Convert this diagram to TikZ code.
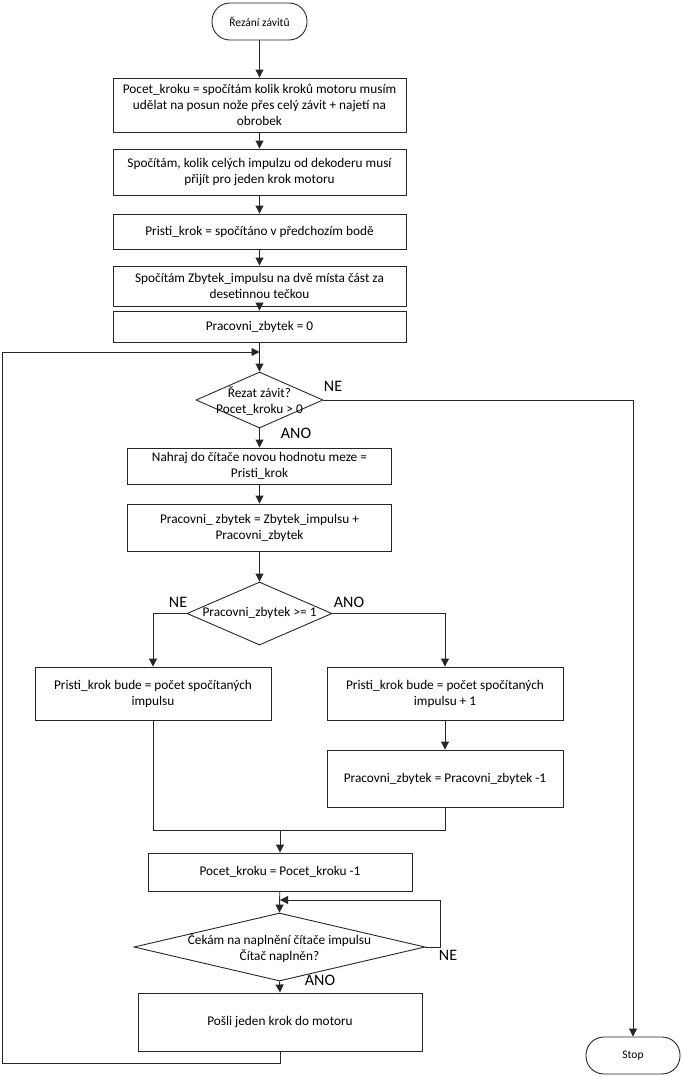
\documentclass[tikz,border=0pt]{standalone}
\usepackage{fontspec}
\setmainfont{Carlito}
\usetikzlibrary{shapes.geometric,arrows.meta}
\tikzset{
  ln/.style={draw=black!85, line width=0.9pt},
  arr/.style={ln, -{Triangle[length=8pt,width=8pt]}},
  procbox/.style={draw=black!85, line width=0.9pt, rectangle, inner sep=0pt, align=center, font=\fontsize{13.3}{16}\selectfont},
  term/.style={draw=black!85, line width=0.9pt, rectangle, rounded corners=18pt, inner sep=0pt, align=center, font=\fontsize{11.5}{13}\selectfont},
  dec/.style={draw=black!85, line width=0.9pt, diamond, inner sep=0pt},
  dectext/.style={inner sep=0pt, align=center, font=\fontsize{13.3}{16}\selectfont},
  lbl/.style={inner sep=0pt, font=\fontsize{16}{18}\selectfont},
}
\begin{document}
\begin{tikzpicture}[x=1pt,y=-1pt]
\useasboundingbox (0,0) rectangle (682,1076);
% nodes
\node[term, minimum width=95pt, minimum height=37pt] (start) at (259.5,21.5) {Řezání závitů};
\node[procbox, minimum width=293pt, minimum height=54pt] (b1) at (259.5,105) {Pocet\_kroku = spočítám kolik kroků motoru musím\\udělat na posun nože přes celý závit + najetí na\\obrobek};
\node[procbox, minimum width=293pt, minimum height=46pt] (b2) at (259.5,172) {Spočítám, kolik celých impulzu od dekoderu musí\\přijít pro jeden krok motoru};
\node[procbox, minimum width=293pt, minimum height=35pt] (b3) at (259.5,231.5) {Pristi\_krok = spočítáno v předchozím bodě};
\node[procbox, minimum width=293pt, minimum height=40pt] (b4) at (259.5,286) {Spočítám Zbytek\_impulsu na dvě místa část za\\desetinnou tečkou};
\node[procbox, minimum width=293pt, minimum height=31pt] (b5) at (259.5,326.5) {Pracovni\_zbytek = 0};
\node[dec, minimum width=127pt, minimum height=56pt] (d1) at (259.5,400) {};
\node[dectext] (d1t) at (259.5,401) {Řezat závit?\\Pocet\_kroku > 0};
\node[procbox, minimum width=264pt, minimum height=36pt] (b6) at (259.5,466) {Nahraj do čítače novou hodnotu meze =\\Pristi\_krok};
\node[procbox, minimum width=264pt, minimum height=47pt] (b7) at (259.5,527.5) {Pracovni\_ zbytek = Zbytek\_impulsu +\\Pracovni\_zbytek};
\node[dec, minimum width=145pt, minimum height=63pt] (d2) at (259.5,613.5) {};
\node[dectext] (d2t) at (259.5,613) {Pracovni\_zbytek >= 1};
\node[procbox, minimum width=236pt, minimum height=53pt] (b8) at (153,693.5) {Pristi\_krok bude = počet spočítaných\\impulsu};
\node[procbox, minimum width=236pt, minimum height=53pt] (b9) at (445,693.5) {Pristi\_krok bude = počet spočítaných\\impulsu + 1};
\node[procbox, minimum width=236pt, minimum height=57pt] (b10) at (445,778.5) {Pracovni\_zbytek = Pracovni\_zbytek -1};
\node[procbox, minimum width=264pt, minimum height=38pt] (b11) at (280,872) {Pocet\_kroku = Pocet\_kroku -1};
\node[dec, minimum width=291pt, minimum height=68pt] (d3) at (279.5,947) {};
\node[dectext] (d3t) at (279.5,948) {Čekám na naplnění čítače impulsu\\Čítač naplněn?};
\node[procbox, minimum width=284pt, minimum height=58pt] (b12) at (280,1022) {Pošli jeden krok do motoru};
\node[term, minimum width=94pt, minimum height=37pt] (stop) at (633,1055.5) {Stop};
% labels
\node[lbl] (ne1) at (333,386) {NE};
\node[lbl] (ano1) at (296,433) {ANO};
\node[lbl] (ne2) at (178,602) {NE};
\node[lbl] (ano2) at (349,602) {ANO};
\node[lbl] (ne3) at (448,955) {NE};
\node[lbl] (ano3) at (320,980) {ANO};
% coordinates
\coordinate (loopin) at (259.5,352);
\coordinate (j) at (280,830);
\coordinate (waitin) at (280,900);
% connectors
\draw[arr] (start) -- (b1);
\draw[arr] (b1) -- (b2);
\draw[arr] (b2) -- (b3);
\draw[arr] (b3) -- (b4);
\draw[arr] (b4) -- (b5);
\draw[arr] (b5) -- (d1.north);
\draw[arr] (b12.south) -- ++(0,12) -| (2,352) -- (loopin);
\draw[arr] (d1.east) -| (stop.north);
\draw[arr] (d1.south) -- (b6.north);
\draw[arr] (b6) -- (b7);
\draw[arr] (b7) -- (d2.north);
\draw[arr] (d2.west) -| (b8.north);
\draw[arr] (d2.east) -| (b9.north);
\draw[arr] (b9) -- (b10);
\draw[ln] (b8.south) |- (j) -| (b10.south);
\draw[arr] (j) -- (b11.north);
\draw[arr] (b11) -- (d3.north);
\draw[arr] (d3.east) -- ++(15,0) |- (waitin);
\draw[arr] (d3.south) -- (b12.north);
\end{tikzpicture}
\end{document}
